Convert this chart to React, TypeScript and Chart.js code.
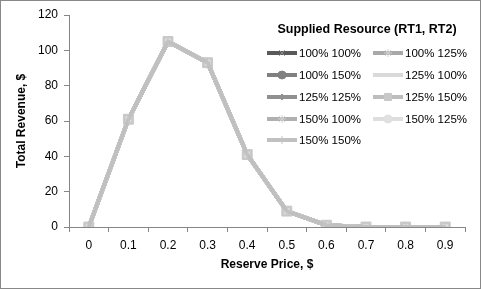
import React, { useEffect, useRef } from "react";
import { Chart, registerables } from "chart.js";
import { drawPoint } from "chart.js/helpers";

Chart.register(...registerables);

const categories = ["0", "0.1", "0.2", "0.3", "0.4", "0.5", "0.6", "0.7", "0.8", "0.9"];
const yTicks = [0, 20, 40, 60, 80, 100, 120];

const s100_100 = [0, 61, 105, 93, 41, 9, 1, 0, 0, 0];
const s100_125 = [0, 61, 105, 93, 41, 9, 1, 0, 0, 0];
const s100_150 = [0, 61, 105, 93, 41, 9, 1, 0, 0, 0];
const s125_100 = [0, 61, 105, 93, 41, 9, 1, 0, 0, 0];
const s125_125 = [0, 61, 105, 93, 41, 9, 1, 0, 0, 0];
const s125_150 = [0, 61, 105, 93, 41, 9, 1, 0, 0, 0];
const s150_100 = [0, 61, 105, 93, 41, 9, 1, 0, 0, 0];
const s150_125 = [0, 61, 105, 93, 41, 9, 1, 0, 0, 0];
const s150_150 = [0, 61, 105, 93, 41, 9, 1, 0, 0, 0];

const seriesLabels = [
  "100% 100%", "100% 125%", "100% 150%",
  "125% 100%", "125% 125%", "125% 150%",
  "150% 100%", "150% 125%", "150% 150%",
];
const seriesValues = [s100_100, s100_125, s100_150, s125_100, s125_125, s125_150, s150_100, s150_125, s150_150];
const lineColors = ["#5a5a5a", "#a8a8a8", "#808080", "#d9d9d9", "#909090", "#bdbdbd", "#b0b0b0", "#dedede", "#c0c0c0"];
const markerColors = ["#8c8c8c", "#d0d0d0", "#808080", "#d9d9d9", "#909090", "#c8c8c8", "#d0d0d0", "#e0e0e0", "#c4c4c4"];
const markerStyles: any[] = ["crossRot", "star", "circle", false, "rectRot", "rect", "star", "circle", "cross"];
const markerRadius = [5, 5, 4, 0, 4, 7, 5, 3, 5];
const legendMarkerRadius = [4, 4, 4, 0, 3, 5, 4, 4, 4];

const legendTitle = "Supplied Resource (RT1, RT2)";
const FONT = "'Liberation Sans', Arial, sans-serif";

const legendPlugin = {
  id: "customLegend",
  afterDraw(chart: any) {
    const ctx = chart.ctx;
    ctx.save();
    ctx.fillStyle = "#000";
    ctx.font = `bold 12.5px ${FONT}`;
    ctx.textAlign = "center";
    ctx.textBaseline = "middle";
    ctx.fillText(legendTitle, 367, 30);
    ctx.font = `11.5px ${FONT}`;
    ctx.textAlign = "left";
    const rowY = [53, 75, 97, 119, 140];
    const colX = [267, 373];
    chart.data.datasets.forEach((ds: any, i: number) => {
      const col = i % 2;
      const row = Math.floor(i / 2);
      const x0 = colX[col];
      const y = rowY[row];
      ctx.strokeStyle = ds.borderColor;
      ctx.lineWidth = 4;
      ctx.lineCap = "butt";
      ctx.beginPath();
      ctx.moveTo(x0, y);
      ctx.lineTo(x0 + 30, y);
      ctx.stroke();
      if (ds.pointStyle) {
        ctx.fillStyle = ds.pointBackgroundColor;
        ctx.strokeStyle = ds.pointBorderColor;
        ctx.lineWidth = 1;
        drawPoint(ctx, { pointStyle: ds.pointStyle, radius: legendMarkerRadius[i], borderWidth: 1, rotation: 0 }, x0 + 15, y);
      }
      ctx.fillStyle = "#000";
      ctx.fillText(ds.label, x0 + 32, y + 1);
    });
    ctx.restore();
  },
};

export default function App() {
  const ref = useRef<HTMLCanvasElement>(null);
  useEffect(() => {
    document.body.style.margin = "0";
    const datasets = seriesValues.map((vals, i) => ({
      label: seriesLabels[i],
      data: vals,
      borderColor: lineColors[i],
      backgroundColor: lineColors[i],
      borderWidth: 4,
      pointStyle: markerStyles[i],
      pointRadius: markerRadius[i],
      pointBackgroundColor: markerColors[i],
      pointBorderColor: markerColors[i],
      pointBorderWidth: 1,
      tension: 0,
      order: 9 - i,
    }));
    const chart = new Chart(ref.current!, {
      type: "line",
      data: { labels: categories, datasets },
      options: {
        animation: false,
        responsive: false,
        maintainAspectRatio: false,
        layout: { padding: { left: 0, right: 16, top: 15, bottom: 0 } },
        plugins: { legend: { display: false }, tooltip: { enabled: false } },
        scales: {
          x: {
            type: "category",
            offset: true,
            grid: { display: true, drawOnChartArea: false, drawTicks: true, tickLength: 5, color: "#868686", offset: true },
            border: { display: true, color: "#868686", width: 1 },
            ticks: { color: "#000", font: { family: FONT, size: 12 }, padding: 6, maxRotation: 0, autoSkip: false },
            title: { display: true, text: "Reserve Price, $", color: "#000", font: { family: FONT, size: 12, weight: "bold" }, padding: { top: 0, bottom: 17 } },
            afterFit: (s: any) => { s.height = 62; },
          },
          y: {
            min: 0,
            max: 120,
            afterBuildTicks: (s: any) => { s.ticks = yTicks.map((v) => ({ value: v })); },
            grid: { display: true, drawOnChartArea: false, drawTicks: true, tickLength: 5, color: "#868686" },
            border: { display: true, color: "#868686", width: 1 },
            ticks: { color: "#000", font: { family: FONT, size: 12 }, padding: 6 },
            title: { display: true, text: "Total Revenue, $", color: "#000", font: { family: FONT, size: 12, weight: "bold" }, padding: { top: 14, bottom: 0 } },
            afterFit: (s: any) => { s.width = 69; },
          },
        },
      },
      plugins: [legendPlugin],
    });
    return () => chart.destroy();
  }, []);
  return (
    <div style={{ position: "fixed", left: 0, top: 0, width: 481, height: 289, background: "#fff" }}>
      <canvas ref={ref} width={481} height={289} style={{ display: "block", width: 481, height: 289 }} />
      <div style={{ position: "absolute", left: 0, top: 0, width: 481, height: 289, boxSizing: "border-box", border: "1px solid #888", pointerEvents: "none" }} />
    </div>
  );
}
